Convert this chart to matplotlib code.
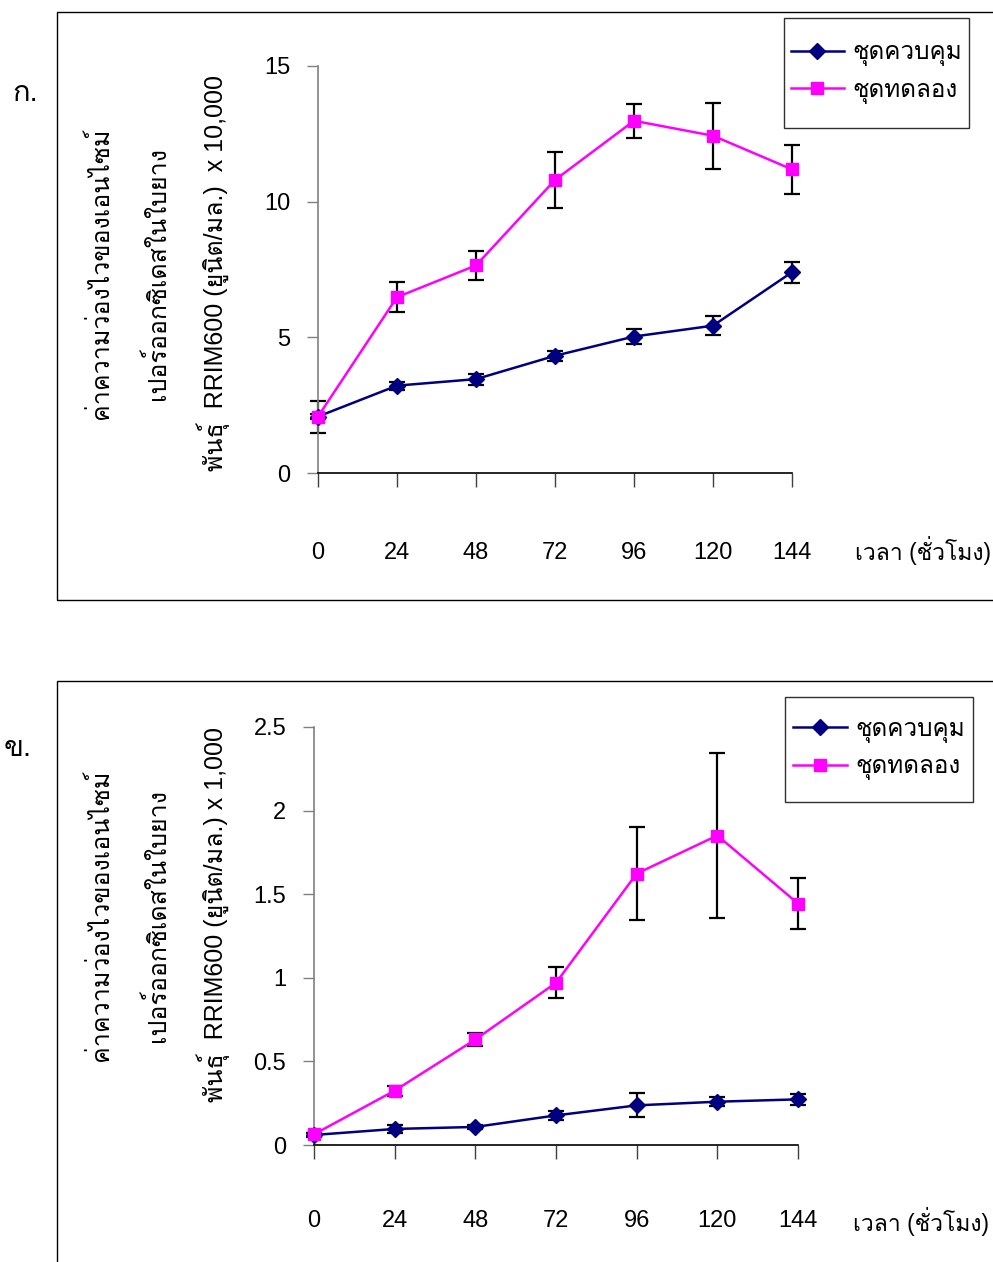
import matplotlib
matplotlib.use("Agg")
import matplotlib.pyplot as plt
from matplotlib.patches import Rectangle
from matplotlib.ticker import FormatStrFormatter, FuncFormatter

FONT = ["Liberation Sans", "Loma", "DejaVu Sans"]
plt.rcParams["font.family"] = FONT

hours = [0, 24, 48, 72, 96, 120, 144]
series_names = ["ชุดควบคุม", "ชุดทดลอง"]

# panel ก. (x 10,000 units/ml)
ctrl_a = [2.08, 3.22, 3.46, 4.32, 5.03, 5.43, 7.40]
ctrl_a_err = [0.10, 0.15, 0.20, 0.19, 0.29, 0.35, 0.39]
trt_a = [2.08, 6.48, 7.65, 10.80, 12.98, 12.43, 11.19]
trt_a_err = [0.59, 0.55, 0.52, 1.02, 0.63, 1.22, 0.90]

# panel ข. (x 1,000 units/ml)
ctrl_b = [0.060, 0.096, 0.108, 0.177, 0.237, 0.259, 0.273]
ctrl_b_err = [0.010, 0.025, 0.012, 0.028, 0.072, 0.026, 0.032]
trt_b = [0.064, 0.325, 0.631, 0.970, 1.623, 1.851, 1.444]
trt_b_err = [0.010, 0.030, 0.040, 0.092, 0.280, 0.495, 0.155]

ylabel_1 = "ค่าความว่องไวของเอนไซม์"
ylabel_2 = "เปอร์ออกซิเดสในใบยาง"
ylabel_3a = "พันธุ์  RRIM600 (ยูนิต/มล.)  x 10,000"
ylabel_3b = "พันธุ์  RRIM600 (ยูนิต/มล.) x 1,000"
xlabel = "เวลา (ชั่วโมง)"

W, H = 993, 1262
fig = plt.figure(figsize=(W / 100, H / 100), dpi=100)


def fx(px):
    return px / W


def fy(py):
    return 1 - py / H


def box(x0, y0, x1, y1, color="black"):
    fig.add_artist(Rectangle((fx(x0), fy(y1)), fx(x1 - x0), (y1 - y0) / H,
                             transform=fig.transFigure, fill=False,
                             edgecolor=color, lw=1.0, clip_on=False))


def draw_panel(rect, ctrl, ctrl_err, trt, trt_err, ylim, yticks, fmt, xpad,
               frame, tag, tag_xy, ylab3, ylab_y, xlab_xy, leg_box):
    x0, y0, x1, y1 = rect
    ax = fig.add_axes([fx(x0), fy(y1), fx(x1 - x0), (y1 - y0) / H])

    # error bars under the lines
    for vals, errs in [(ctrl, ctrl_err), (trt, trt_err)]:
        ax.errorbar(hours, vals, yerr=errs, fmt="none", ecolor="black",
                    elinewidth=1.6, capsize=6, capthick=1.6, clip_on=False, zorder=2)
    ax.plot(hours, ctrl, color="#000080", marker="D", markersize=8, lw=1.8,
            label=series_names[0], clip_on=False, zorder=3)
    ax.plot(hours, trt, color="#FF00FF", marker="s", markersize=9, lw=1.8,
            label=series_names[1], clip_on=False, zorder=4)

    ax.set_xlim(0, 144)
    ax.set_ylim(*ylim)
    ax.set_xticks(hours)
    ax.set_yticks(yticks)
    ax.yaxis.set_major_formatter(fmt)
    for s in ["top", "right"]:
        ax.spines[s].set_visible(False)
    ax.spines["left"].set_color("#808080")
    ax.spines["left"].set_linewidth(1.2)
    ax.spines["bottom"].set_color("black")
    ax.spines["bottom"].set_linewidth(1.2)
    ax.tick_params(axis="y", direction="out", length=8, width=1.0, color="#808080",
                   labelsize=17, pad=12)
    ax.tick_params(axis="x", direction="out", length=10, width=1.0, color="#404040",
                   labelsize=17, pad=xpad)

    # y label in three lines
    for xx, txt in zip([100, 157, 213], [ylabel_1, ylabel_2, ylab3]):
        fig.text(fx(xx), fy(ylab_y), txt, rotation=90, ha="center", va="center",
                 fontsize=18)
    fig.text(fx(xlab_xy[0]), fy(xlab_xy[1]), xlabel, ha="left", va="center", fontsize=16.5)
    fig.text(fx(tag_xy[0]), fy(tag_xy[1]), tag, ha="left", va="center", fontsize=21)

    lx0, ly0, lx1, ly1 = leg_box
    ax.legend(loc="center", bbox_to_anchor=(fx((lx0 + lx1) / 2), fy((ly0 + ly1) / 2)),
              bbox_transform=fig.transFigure, fontsize=17.5, frameon=False,
              handlelength=2.2, labelspacing=0.55, handletextpad=0.35,
              borderpad=0, borderaxespad=0)
    box(lx0, ly0, lx1, ly1, "#303030")
    box(*frame)
    return ax


draw_panel((318, 66, 792, 473), ctrl_a, ctrl_a_err, trt_a, trt_a_err,
           (0, 15), [0, 5, 10, 15], FormatStrFormatter("%d"), 40,
           (57, 12, 1000, 600), "ก.", (12, 93), ylabel_3a, 273,
           (855, 550), (784, 18, 969, 128))

draw_panel((314, 727, 798, 1145), ctrl_b, ctrl_b_err, trt_b, trt_b_err,
           (0, 2.5), [0, 0.5, 1, 1.5, 2, 2.5], FuncFormatter(lambda v, p: "%g" % v), 37,
           (57, 681, 1000, 1270), "ข.", (4, 748), ylabel_3b, 915,
           (853, 1222), (785, 697, 973, 802))

fig.savefig("out.png", dpi=100)
